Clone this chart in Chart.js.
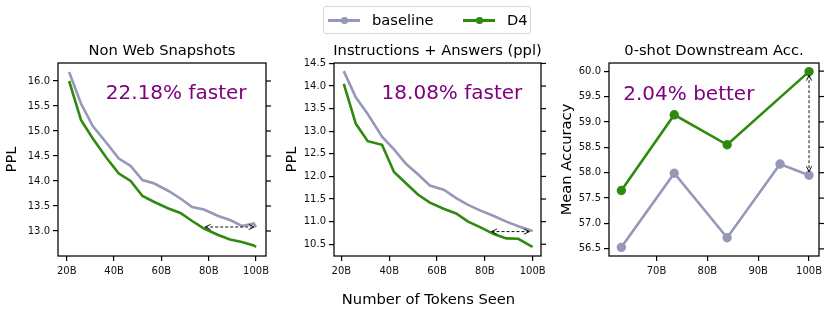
<!DOCTYPE html>
<html>
<head>
<meta charset="utf-8">
<script src="https://cdn.jsdelivr.net/npm/chart.js@4.4.1/dist/chart.umd.min.js"></script>
<style>
body{margin:0;width:831px;height:316px;background:#fff;position:relative;overflow:hidden;font-family:"DejaVu Sans",sans-serif}
canvas{position:absolute;left:0;top:0}
#legend{position:absolute;left:323px;top:6px;width:208px;height:28px;border:1px solid #d6d6d6;border-radius:3px;box-sizing:border-box;font-size:14.7px;color:#000}
#legend .ln{position:absolute;top:12px;width:32px;height:2.5px}
#legend .ln b{position:absolute;left:13px;top:-2px;width:6.5px;height:6.5px;border-radius:50%;background:inherit}
#legend .tx{position:absolute;top:3px;line-height:20px}
#xlabel{position:absolute;left:300px;width:257px;top:290px;text-align:center;font-size:14.7px;color:#000}
</style>
</head>
<body>
<canvas id="c1" width="831" height="316"></canvas>
<canvas id="c2" width="831" height="316"></canvas>
<canvas id="c3" width="831" height="316"></canvas>
<div id="legend"></div>
<div id="xlabel">Number of Tokens Seen</div>
<script>
Chart.defaults.font.family='"DejaVu Sans", sans-serif';
Chart.defaults.color='#000';

// data
const seriesNames=["baseline","D4"];
const seriesColors=["#9598b6","#2e8a10"];
const tokensSeen=[21,26,31,37,42,47,52,57,63,68,73,78,84,89,94,99,100];
const nonWebBaseline=[16.18,15.55,15.1,14.75,14.45,14.3,14.02,13.95,13.8,13.65,13.48,13.43,13.3,13.22,13.1,13.15,13.08];
const nonWebD4=[16.0,15.22,14.85,14.45,14.15,14.0,13.7,13.58,13.45,13.36,13.2,13.05,12.92,12.83,12.78,12.71,12.68];
const instrBaseline=[14.33,13.75,13.38,12.88,12.6,12.28,12.05,11.8,11.7,11.52,11.37,11.25,11.12,11.0,10.9,10.81,10.79];
const instrD4=[14.05,13.17,12.78,12.7,12.1,11.85,11.6,11.42,11.28,11.18,11.0,10.88,10.72,10.63,10.62,10.47,10.44];
const accTokens=[63.1,73.5,83.9,94.3,100];
const accBaseline=[56.53,57.99,56.72,58.17,57.95];
const accD4=[57.65,59.14,58.55,null,59.99];
const tokenTicks=[20,40,60,80,100];
const accTokenTicks=[70,80,90,100];
const nonWebTicks=[13.0,13.5,14.0,14.5,15.0,15.5,16.0];
const instrTicks=[10.5,11.0,11.5,12.0,12.5,13.0,13.5,14.0,14.5];
const accTicks=[56.5,57.0,57.5,58.0,58.5,59.0,59.5,60.0];
// gap arrows [x1,y1,x2,y2]
const nonWebArrow=[78.5,13.08,99.2,13.08];
const instrArrow=[82.8,10.78,98.6,10.78];
const accArrow=[100,59.92,100,58.02];

// frame, mirrored ticks, title, note, arrow
const panelDecor={
  id:'panelDecor',
  afterDraw(chart,args,o){
    const {ctx,chartArea:a,scales:{x,y}}=chart;
    ctx.save();
    ctx.strokeStyle='#000';ctx.lineWidth=1.25;
    ctx.strokeRect(a.left,a.top,a.right-a.left,a.bottom-a.top);
    ctx.lineWidth=1.2;
    y.ticks.forEach(t=>{const py=y.getPixelForValue(t.value);ctx.beginPath();ctx.moveTo(a.right,py);ctx.lineTo(a.right+5,py);ctx.stroke();});
    ctx.fillStyle='#000';ctx.font='14.7px "DejaVu Sans"';ctx.textAlign='center';ctx.textBaseline='middle';
    ctx.fillText(o.title,(a.left+a.right)/2,a.top-11.5);
    ctx.fillStyle='#800080';ctx.font='20px "DejaVu Sans"';ctx.textAlign='left';
    ctx.fillText(o.note,a.left+o.noteX*(a.right-a.left),a.top+o.noteY*(a.bottom-a.top));
    const [x1,y1,x2,y2]=o.arrow;
    const p1=[x.getPixelForValue(x1),y.getPixelForValue(y1)],p2=[x.getPixelForValue(x2),y.getPixelForValue(y2)];
    ctx.strokeStyle='#111';ctx.lineWidth=1;ctx.setLineDash([3,2]);
    ctx.beginPath();ctx.moveTo(p1[0],p1[1]);ctx.lineTo(p2[0],p2[1]);ctx.stroke();
    ctx.setLineDash([]);
    const head=(tip,from)=>{
      const ang=Math.atan2(tip[1]-from[1],tip[0]-from[0]);
      ctx.beginPath();
      ctx.moveTo(tip[0]-6*Math.cos(ang-0.45),tip[1]-6*Math.sin(ang-0.45));
      ctx.lineTo(tip[0],tip[1]);
      ctx.lineTo(tip[0]-6*Math.cos(ang+0.45),tip[1]-6*Math.sin(ang+0.45));
      ctx.stroke();
    };
    head(p1,p2);head(p2,p1);
    ctx.restore();
  }
};

function makePanel(id,p){
  const ds=[p.base,p.d4].map((vals,i)=>({
    label:seriesNames[i],
    data:vals.map((v,j)=>({x:p.xs[j],y:v})),
    borderColor:seriesColors[i],backgroundColor:seriesColors[i],
    borderWidth:2.6,pointRadius:p.dots?3.4:0,pointHoverRadius:0,spanGaps:true,tension:0
  }));
  const axisGrid={drawOnChartArea:false,drawTicks:true,tickLength:5,color:'#000',lineWidth:1.2};
  return new Chart(document.getElementById(id),{
    type:'line',
    data:{datasets:ds},
    options:{
      responsive:false,animation:false,
      layout:{padding:{left:p.area[0]-p.yw,right:831-p.area[1],top:p.area[2],bottom:316-p.area[3]-20}},
      plugins:{legend:{display:false},tooltip:{enabled:false},
        panelDecor:{title:p.title,note:p.note,noteX:p.noteX,noteY:p.noteY,arrow:p.arrow}},
      scales:{
        x:{type:'linear',min:p.xr[0],max:p.xr[1],
          afterBuildTicks:s=>{s.ticks=p.xt.map(v=>({value:v}));},
          afterFit:s=>{s.height=20;s.paddingLeft=0;s.paddingRight=0;},
          grid:axisGrid,border:{display:false},
          ticks:{autoSkip:false,maxRotation:0,padding:4,font:{size:10},color:'#111',callback:v=>v+'B'}},
        y:{type:'linear',min:p.yr[0],max:p.yr[1],
          afterBuildTicks:s=>{s.ticks=p.yt.map(v=>({value:v}));},
          afterFit:s=>{s.width=p.yw;s.paddingTop=0;s.paddingBottom=0;},
          grid:axisGrid,border:{display:false},
          title:{display:true,text:p.ylabel,font:{size:14.7},padding:0,color:'#000'},
          ticks:{autoSkip:false,padding:3,font:{size:10},color:'#111',callback:v=>v.toFixed(1)}}
      }
    },
    plugins:[panelDecor]
  });
}

makePanel('c1',{xs:tokensSeen,base:nonWebBaseline,d4:nonWebD4,area:[58,266,63,256],yw:54.5,
  xr:[16.3,104.2],yr:[12.5,16.36],xt:tokenTicks,yt:nonWebTicks,ylabel:'PPL',
  title:'Non Web Snapshots',note:'22.18% faster',noteX:0.23,noteY:0.16,arrow:nonWebArrow});
makePanel('c2',{xs:tokensSeen,base:instrBaseline,d4:instrD4,area:[334,541,63,256],yw:50.5,
  xr:[16.9,103.5],yr:[10.24,14.51],xt:tokenTicks,yt:instrTicks,ylabel:'PPL',
  title:'Instructions + Answers (ppl)',note:'18.08% faster',noteX:0.23,noteY:0.16,arrow:instrArrow});
makePanel('c3',{xs:accTokens,base:accBaseline,d4:accD4,area:[609,819,63,256],yw:51.1,dots:true,
  xr:[60.67,101.96],yr:[56.36,60.16],xt:accTokenTicks,yt:accTicks,ylabel:'Mean Accuracy',
  title:'0-shot Downstream Acc.',note:'2.04% better',noteX:0.068,noteY:0.165,arrow:accArrow});

// legend
const lg=document.getElementById('legend');
const lineX=[4,139],textX=[48,183];
seriesNames.forEach((n,i)=>{
  const ln=document.createElement('i');ln.className='ln';ln.style.left=lineX[i]+'px';ln.style.background=seriesColors[i];
  ln.appendChild(document.createElement('b'));
  const tx=document.createElement('span');tx.className='tx';tx.style.left=textX[i]+'px';tx.textContent=n;
  lg.appendChild(ln);lg.appendChild(tx);
});
</script>
</body>
</html>
